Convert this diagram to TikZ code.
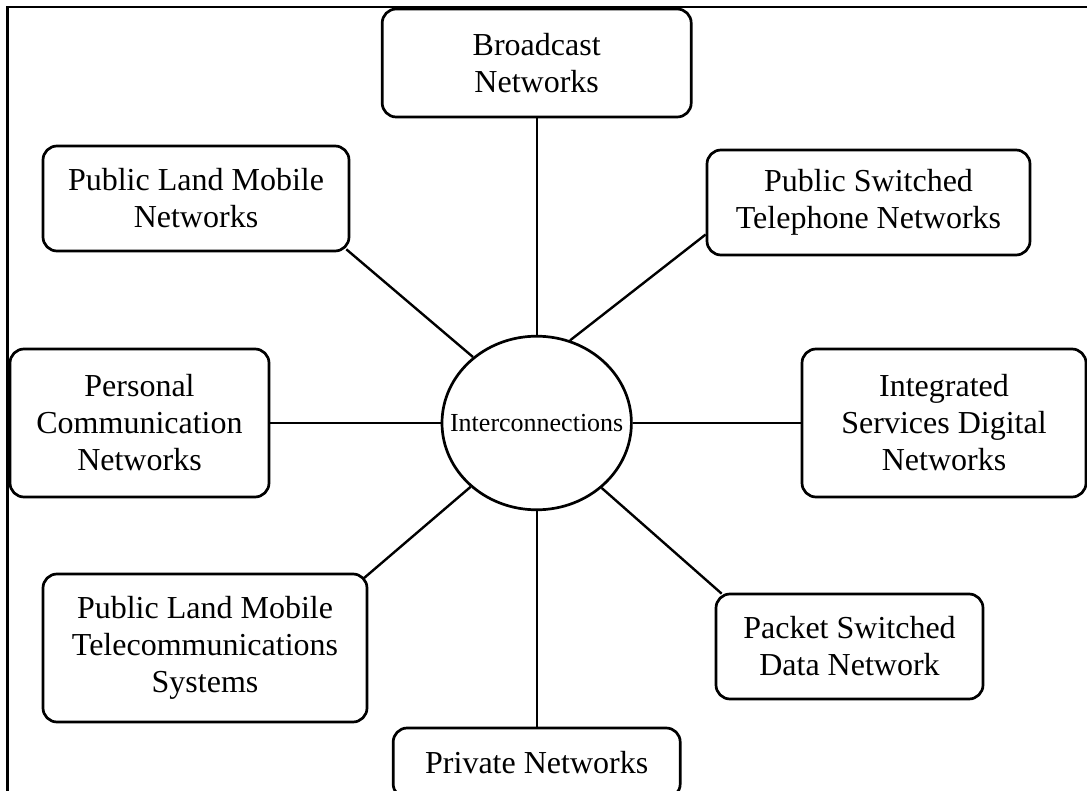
\documentclass[tikz,border=0pt]{standalone}
\usepackage{fontspec}
\setmainfont{Liberation Serif}
\usetikzlibrary{shapes.geometric}
\begin{document}
\begin{tikzpicture}[x=1pt,y=-1pt,
  netbox/.style={draw, rounded corners=14pt, line width=2.7pt, align=center, inner sep=0pt,
    font=\fontsize{32}{37}\selectfont},
  hub/.style={draw, ellipse, line width=2.7pt, inner sep=0pt},
  link/.style={line width=2.4pt},
  frame/.style={line width=2.8pt}]
\useasboundingbox (0,0) rectangle (1087,791);
\clip (0,0) rectangle (1087,791);
\coordinate (fbl) at (7.5,792);
\coordinate (ftl) at (7.5,7);
\coordinate (ftr) at (1088,7);
\draw[frame] (fbl) -- (ftl) -- (ftr);

\node[hub, minimum width=189.4pt, minimum height=173.6pt] (c) at (536.7,423) {};
\node[font=\fontsize{26}{30}\selectfont, inner sep=0pt] (ctext) at (c.center) {Interconnections};

\node[netbox, minimum width=309pt, minimum height=108pt] (bc) at (536.7,63) {Broadcast\\Networks};
\node[netbox, minimum width=306pt, minimum height=105pt] (plmn) at (196,198.5) {Public Land Mobile\\Networks};
\node[netbox, minimum width=323pt, minimum height=105pt] (pstn) at (868.5,202.5) {Public Switched\\Telephone Networks};
\node[netbox, minimum width=259pt, minimum height=148pt] (pcn) at (139.5,423) {Personal\\Communication\\Networks};
\node[netbox, minimum width=284pt, minimum height=148pt] (isdn) at (944,423) {Integrated\\Services Digital\\Networks};
\node[netbox, minimum width=324pt, minimum height=148pt] (plmts) at (205,648) {Public Land Mobile\\Telecommunications\\Systems};
\node[netbox, minimum width=267pt, minimum height=105pt] (psdn) at (849.5,646.5) {Packet Switched\\Data Network};
\node[netbox, minimum width=287pt, minimum height=70pt] (priv) at (536.7,763) {Private Networks};

\draw[link] (bc.south) -- (c.north);
\draw[link] ([yshift=-32pt]pstn.west) -- (c.68);
\draw[link] ([shift={(-4pt,3pt)}]plmn.south east) -- (c.134.6);
\draw[link] (pcn.east) -- (c.west);
\draw[link] (isdn.west) -- (c.east);
\draw[link] ([shift={(-5pt,-6pt)}]plmts.north east) -- (c.224.8);
\draw[link] (c.south) -- (priv.north);
\draw[link] ([shift={(7pt,-1pt)}]psdn.north west) -- (c.315.4);
\end{tikzpicture}
\end{document}
